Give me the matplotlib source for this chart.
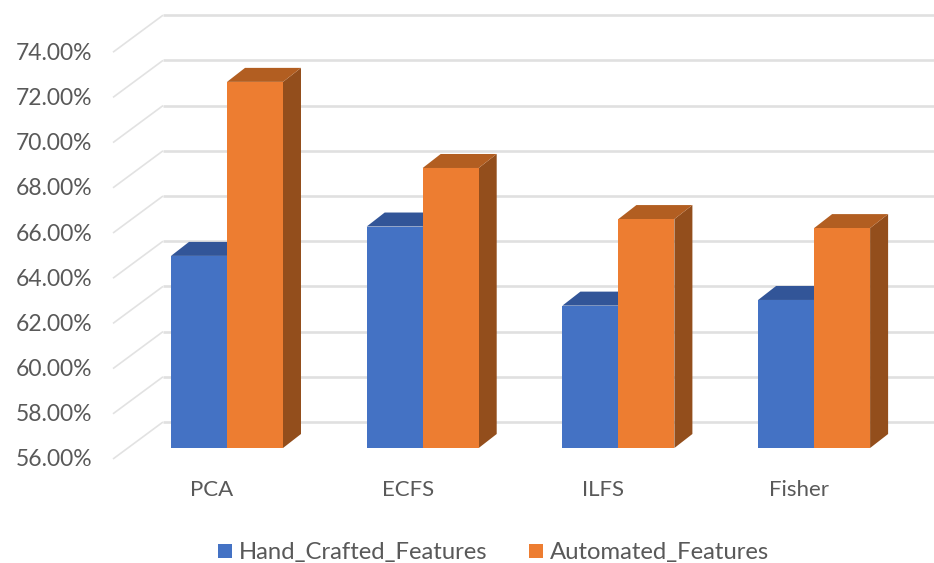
import matplotlib
matplotlib.use("Agg")
import matplotlib.pyplot as plt
from matplotlib.patches import Polygon, Rectangle

categories = ["PCA", "ECFS", "ILFS", "Fisher"]
hand_crafted = [64.5, 65.8, 62.3, 62.55]
automated = [72.2, 68.39, 66.13, 65.73]
series_names = ["Hand_Crafted_Features", "Automated_Features"]
y_ticks = [56, 58, 60, 62, 64, 66, 68, 70, 72, 74]

W, H = 934, 563
X_UNIT = 195.7        # pixels per category step
Y_UNIT = 22.6         # pixels per percentage point
BASE = 56
BAR_W = 56 / X_UNIT


def dx(px):
    return px / X_UNIT


def dy(px):
    return px / Y_UNIT


plt.rcParams["font.family"] = ["Lato", "DejaVu Sans"]
fig = plt.figure(figsize=(W / 100, H / 100), dpi=100)
ax = fig.add_axes([0, 0, 1, 1])
ax.set_xlim(-227 / X_UNIT, (W - 227) / X_UNIT)
ax.set_ylim(BASE - (H - 448) / Y_UNIT, BASE + 448 / Y_UNIT)
ax.axis("off")

GRID = "#e0e0e0"
SIDE_GRID = "#e2e2e2"
TEXT = "#595959"

# Wall grid: slanted run on the side wall, long run on the back wall
wall_x = dx(-64)
wall_lift = dy(26)
side_dx, side_dy = dx(-50), dy(37)
for v in y_ticks:
    by = v + wall_lift
    ax.plot([wall_x, ax.get_xlim()[1]], [by, by], color=GRID, lw=1.9, zorder=1,
            solid_capstyle="butt")
    ax.plot([wall_x, wall_x + side_dx], [by, by - side_dy], color=SIDE_GRID, lw=1.2,
            zorder=1, solid_capstyle="butt")
    ax.text(dx(-135), v - dy(12), f"{v:.2f}%", ha="right", va="center",
            fontsize=16.5, color=TEXT, zorder=5)

depth_x, depth_y = dx(18), dy(14)


def draw_bar(x0, value, front, top, side, z):
    x1 = x0 + BAR_W
    ax.add_patch(Polygon([(x1, BASE), (x1 + depth_x, BASE + depth_y),
                          (x1 + depth_x, value + depth_y), (x1, value)],
                         closed=True, fc=side, ec="none", zorder=z))
    ax.add_patch(Polygon([(x0, value), (x1, value), (x1 + depth_x, value + depth_y),
                          (x0 + depth_x, value + depth_y)],
                         closed=True, fc=top, ec="none", zorder=z))
    ax.add_patch(Rectangle((x0, BASE), BAR_W, value - BASE, fc=front, ec="none",
                           zorder=z + 0.1))


BLUE = ("#4472c4", "#325598", "#2f5290")
ORANGE = ("#ed7d31", "#b25e21", "#934e1c")

for i, cat in enumerate(categories):
    draw_bar(i - BAR_W, hand_crafted[i], *BLUE, z=2)
    draw_bar(i, automated[i], *ORANGE, z=3)
    ax.text(i - dx(15), BASE - dy(42), cat, ha="center", va="center",
            fontsize=16, color=TEXT, zorder=5)

handles = [Rectangle((0, 0), 1, 1, fc=BLUE[0]), Rectangle((0, 0), 1, 1, fc=ORANGE[0])]
ax.legend(handles, series_names, loc="center", bbox_to_anchor=(493.5 / W, 1 - 553 / H),
          bbox_transform=fig.transFigure, ncol=2, frameon=False, fontsize=17.2,
          labelcolor=TEXT, handlelength=0.58, handleheight=0.58, handletextpad=0.3,
          columnspacing=1.74, borderpad=0, borderaxespad=0)

fig.savefig("out.png", dpi=100)
